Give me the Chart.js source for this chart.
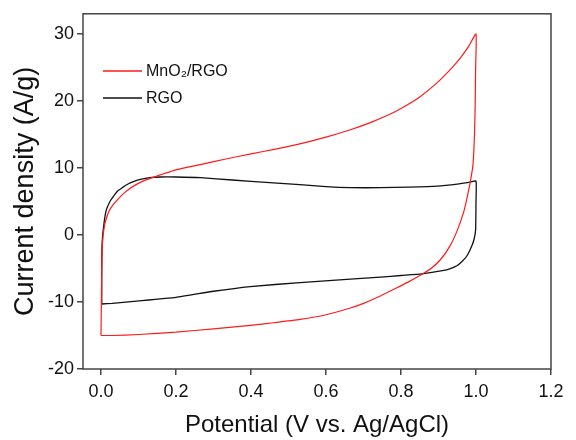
<!DOCTYPE html>
<html>
<head>
<meta charset="utf-8">
<script src="https://cdn.jsdelivr.net/npm/chart.js@4/dist/chart.umd.min.js"></script>
<style>
	html, body { margin: 0; padding: 0; background: #fff; }
	#wrap { width: 576px; height: 440px; }
</style>
</head>
<body>
<div id="wrap"><canvas id="chart-cv"></canvas></div>
<script>
// MnO2/RGO loop: anodic sweep then cathodic sweep back to 0 V
const MNO2_V = [0.000, 0.001, 0.002, 0.004, 0.009, 0.015, 0.022, 0.032, 0.043, 0.055, 0.069, 0.090, 0.115, 0.145, 0.200, 0.265, 0.330, 0.400, 0.465, 0.530, 0.600, 0.665, 0.720, 0.770, 0.807, 0.850, 0.896, 0.930, 0.958, 0.980, 1.000,
	0.999, 0.998, 0.996, 0.992, 0.985, 0.976, 0.967, 0.951, 0.930, 0.905, 0.880, 0.856, 0.820, 0.785, 0.745, 0.700, 0.665, 0.600, 0.531, 0.460, 0.398, 0.300, 0.200, 0.100, 0.030, 0.000];
const MNO2_J = [-15.0, -10.0, -5.0, -1.2, 1.3, 2.6, 3.6, 4.5, 5.2, 5.9, 6.6, 7.4, 8.1, 8.7, 9.7, 10.5, 11.3, 12.1, 12.8, 13.6, 14.6, 15.7, 16.8, 18.0, 19.1, 20.6, 22.7, 24.6, 26.4, 28.1, 30.0,
	25.0, 20.0, 15.0, 10.5, 8.0, 5.5, 3.4, 0.8, -1.7, -3.7, -5.0, -5.85, -7.0, -8.0, -9.1, -10.2, -10.9, -11.9, -12.6, -13.1, -13.5, -14.0, -14.5, -14.85, -15.0, -15.0];

// RGO loop
const RGO_V = [0.002, 0.002, 0.003, 0.007, 0.014, 0.025, 0.035, 0.045, 0.058, 0.072, 0.088, 0.105, 0.130, 0.160, 0.200, 0.265, 0.350, 0.450, 0.530, 0.600, 0.665, 0.745, 0.820, 0.896, 0.950, 0.985, 1.000,
	1.000, 0.999, 0.995, 0.989, 0.976, 0.962, 0.949, 0.930, 0.914, 0.856, 0.800, 0.745, 0.665, 0.531, 0.398, 0.300, 0.200, 0.087, 0.030, 0.002];
const RGO_J = [-10.3, -5.0, -1.2, 1.3, 3.7, 5.1, 5.9, 6.6, 7.1, 7.6, 8.0, 8.3, 8.55, 8.65, 8.65, 8.55, 8.2, 7.8, 7.5, 7.2, 7.05, 7.05, 7.15, 7.3, 7.6, 7.9, 8.05,
	5.0, 0.8, -0.6, -1.6, -3.1, -4.0, -4.6, -5.05, -5.3, -5.8, -6.05, -6.3, -6.6, -7.1, -7.7, -8.4, -9.3, -9.9, -10.2, -10.3];

const X_TICKS = [0.0, 0.2, 0.4, 0.6, 0.8, 1.0, 1.2];
const Y_TICKS = [-20, -10, 0, 10, 20, 30];
const SERIES_LABELS = ["MnO\u2082/RGO", "RGO"];

const FONT = "'Liberation Sans', Arial, sans-serif";
const AXIS_COLOR = "#444";

const toPoints = (xs, ys) => xs.map((x, i) => ({ x: x, y: ys[i] }));

// Frame around the plot plus an inset legend
const framePlugin = {
	id: "frameAndLegend",
	afterDraw(chart) {
		const { ctx, chartArea } = chart;
		ctx.save();
		ctx.strokeStyle = AXIS_COLOR;
		ctx.lineWidth = 1.5;
		ctx.strokeRect(chartArea.left, chartArea.top, chartArea.right - chartArea.left, chartArea.bottom - chartArea.top);

		// legend
		ctx.font = "16px " + FONT;
		ctx.textBaseline = "middle";
		chart.data.datasets.forEach((ds, i) => {
			const y = 71 + i * 27;
			ctx.strokeStyle = ds.borderColor;
			ctx.lineWidth = 1.5;
			ctx.beginPath();
			ctx.moveTo(103, y);
			ctx.lineTo(142, y);
			ctx.stroke();
			ctx.fillStyle = "#111";
			ctx.fillText(ds.label, 146, y + 1);
		});
		ctx.restore();
	},
};

const CHART_CONFIG = {
	type: "scatter",
	data: {
		datasets: [
			{
				label: SERIES_LABELS[0],
				data: toPoints(MNO2_V, MNO2_J),
				showLine: true,
				borderColor: "#ff1a1a",
				borderWidth: 1.2,
				tension: 0.15,
				pointRadius: 0,
			},
			{
				label: SERIES_LABELS[1],
				data: toPoints(RGO_V, RGO_J),
				showLine: true,
				borderColor: "#111",
				borderWidth: 1.3,
				tension: 0.15,
				pointRadius: 0,
			},
		],
	},
	options: {
		responsive: true,
		maintainAspectRatio: false,
		animation: false,
		layout: {
			padding: { top: 5, right: 25, left: 0, bottom: 0 },
		},
		scales: {
			x: {
				type: "linear",
				min: -0.048,
				max: 1.2,
				border: { display: false },
				grid: {
					drawOnChartArea: false,
					drawTicks: true,
					tickLength: 6,
					color: AXIS_COLOR,
					lineWidth: 1.5,
				},
				afterBuildTicks: (scale) => {
					scale.ticks = X_TICKS.map((v) => ({ value: v }));
				},
				afterFit: (scale) => {
					scale.height = 71;
				},
				ticks: {
					color: "#111",
					font: { family: FONT, size: 18 },
					padding: 6,
					maxRotation: 0,
					callback: (v) => Number(v).toFixed(1),
				},
				title: {
					display: true,
					text: "Potential (V vs. Ag/AgCl)",
					color: "#111",
					font: { family: FONT, size: 24 },
					padding: { top: 0, bottom: 0 },
				},
			},
			y: {
				type: "linear",
				min: -20,
				max: 33,
				border: { display: false },
				grid: {
					drawOnChartArea: false,
					drawTicks: true,
					tickLength: 6,
					color: AXIS_COLOR,
					lineWidth: 1.5,
				},
				afterBuildTicks: (scale) => {
					scale.ticks = Y_TICKS.map((v) => ({ value: v }));
				},
				afterFit: (scale) => {
					scale.width = 83;
				},
				ticks: {
					color: "#111",
					font: { family: FONT, size: 18 },
					padding: 3,
				},
				title: {
					display: true,
					text: "Current density (A/g)",
					color: "#111",
					font: { family: FONT, size: 27 },
					padding: { top: 9, bottom: 0 },
				},
			},
		},
		plugins: {
			legend: { display: false },
			tooltip: { enabled: false },
		},
	},
	plugins: [framePlugin],
};

new Chart(document.getElementById("chart-cv"), CHART_CONFIG);
</script>
</body>
</html>
